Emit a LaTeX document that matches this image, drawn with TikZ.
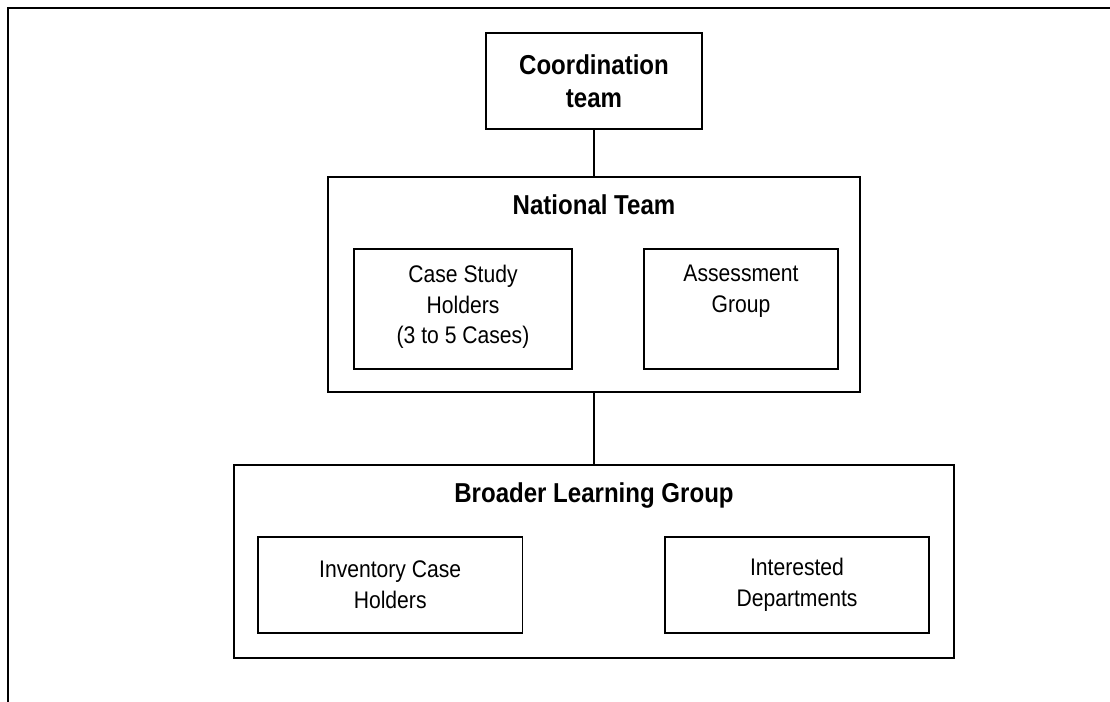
\documentclass[tikz,border=0pt]{standalone}
\usepackage{fontspec}
\setmainfont[FakeStretch=0.88]{Liberation Sans}
\usepackage{tikz}
\usetikzlibrary{
    positioning
}
\tikzset{
    groupbox/.style={
        draw=black,
        line width=1.1pt,
        inner sep=0pt
    }
}
\tikzset{
    unitbox/.style={
        draw=black,
        line width=1.1pt,
        inner sep=0pt
    }
}
\tikzset{
    heading/.style={
        font=\fontsize{20.5}{24.75}\selectfont\bfseries,
        align=center,
        inner sep=0pt
    }
}
\tikzset{
    unittext/.style={
        font=\fontsize{18}{23}\selectfont,
        align=center,
        inner sep=0pt
    }
}
\tikzset{
    link/.style={
        draw=black,
        line width=0.9pt
    }
}

\begin{document}
\begin{tikzpicture}[
    x=0.75pt,
    y=-0.75pt
]

\useasboundingbox (0,0) rectangle (1110,702);

% =========================================================
% Frame
% =========================================================

\draw[line width=1.5pt] (8,702) -- (8,8) -- (1110,8);


% =========================================================
% Coordination team
% =========================================================

\node[
    groupbox,
    heading,
    minimum width=162pt,
    minimum height=72pt
] (coord) at (594,81) {Coordination\\team};


% =========================================================
% National Team
% =========================================================

\node[
    groupbox,
    minimum width=399pt,
    minimum height=161.25pt
] (national) at (594,284.5) {};

\node[
    heading,
    below=13.5pt of national.north
] (nationaltitle) {National Team};

\node[
    unitbox,
    minimum width=163.5pt,
    minimum height=90pt
] (casestudy) at (463,309) {};

\node[
    unittext,
    below=12.4pt of casestudy.north
] (casestudytext) {Case Study\\Holders\\(3 to 5 Cases)};

\node[
    unitbox,
    minimum width=145.5pt,
    minimum height=90pt
] (assess) at (741,309) {};

\node[
    unittext,
    below=12.4pt of assess.north
] (assesstext) {Assessment\\Group};


% =========================================================
% Broader Learning Group
% =========================================================

\node[
    groupbox,
    minimum width=540pt,
    minimum height=144.75pt
] (broader) at (594,561.5) {};

\node[
    heading,
    below=13.5pt of broader.north
] (broadertitle) {Broader Learning Group};

\node[
    unitbox,
    unittext,
    minimum width=198.5pt,
    minimum height=72pt
] (inventory) at (390.2,585) {Inventory Case\\Holders};

\node[
    unitbox,
    unittext,
    minimum width=198pt,
    minimum height=72pt
] (interested) at (797,585) {Interested\\Departments};


% =========================================================
% Links
% =========================================================

\draw[link] (coord.south) -- (national.north);
\draw[link] (national.south) -- (broader.north);

\end{tikzpicture}
\end{document}
